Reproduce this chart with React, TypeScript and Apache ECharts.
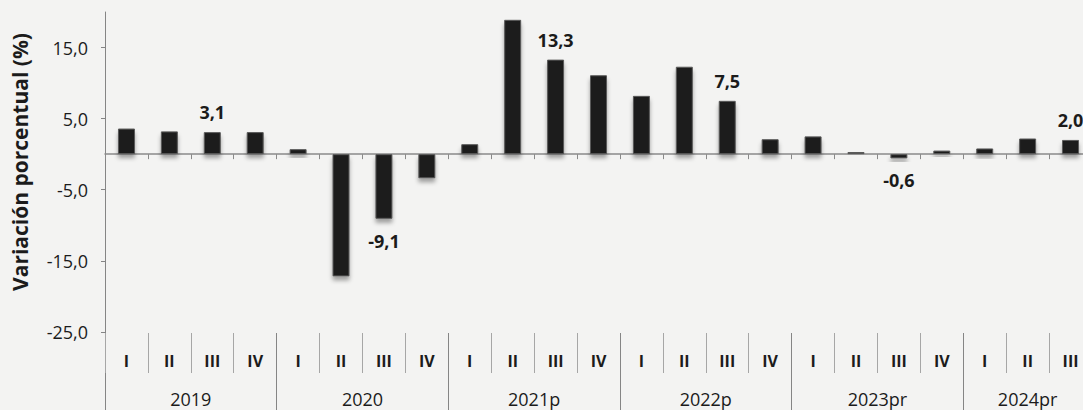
import React, { useEffect, useRef } from 'react';
import * as echarts from 'echarts';

const quarters = ['I', 'II', 'III', 'IV', 'I', 'II', 'III', 'IV', 'I', 'II', 'III', 'IV', 'I', 'II', 'III', 'IV', 'I', 'II', 'III', 'IV', 'I', 'II', 'III'];
const years = ['2019', '2020', '2021p', '2022p', '2023pr', '2024pr'];
const yearCenters = [2, 6, 10, 14, 18, 21.5];
const yearBounds = [4, 8, 12, 16, 20];
const values = [3.6, 3.2, 3.1, 3.1, 0.7, -17.2, -9.1, -3.4, 1.4, 18.9, 13.3, 11.1, 8.2, 12.3, 7.5, 2.1, 2.5, 0.3, -0.6, 0.5, 0.8, 2.2, 2.0];
const labeledIdx = [2, 6, 10, 14, 18, 22];
const yTicks = [-25, -15, -5, 5, 15];

const FONT = "'Open Sans', sans-serif";
const TEXT = '#1b1b1b';
const comma = (v: number) => v.toFixed(1).replace('.', ',');

export default function App() {
  const ref = useRef<HTMLDivElement>(null);
  useEffect(() => {
    document.body.style.margin = '0';
    document.body.style.overflow = 'hidden';
    if (!ref.current) return;
    const chart = echarts.init(ref.current, undefined, { renderer: 'svg' });
    const data = values.map((v, i) => {
      if (!labeledIdx.includes(i)) return v;
      return {
        value: v,
        label: {
          show: true,
          position: v < 0 ? 'bottom' : 'top',
          distance: v < 0 ? 13 : 11,
          formatter: () => comma(v),
          fontFamily: FONT,
          fontWeight: 'bold',
          fontSize: 18,
          color: TEXT,
        },
      };
    });
    chart.setOption({
      animation: false,
      backgroundColor: '#f3f3f2',
      grid: { left: 105, right: 0, top: 12, bottom: 0 },
      xAxis: [
        {
          type: 'category',
          data: quarters,
          position: 'bottom',
          axisLine: { show: true, onZero: true, lineStyle: { color: '#8a8a8a', width: 1.5 } },
          axisTick: { show: true, interval: 0, length: 5, lineStyle: { color: '#8a8a8a' } },
          axisLabel: { show: false },
          splitLine: { show: false },
        },
        {
          type: 'category',
          data: quarters,
          position: 'bottom',
          offset: -77,
          axisLine: { show: false, onZero: false },
          axisTick: { show: true, interval: 0, length: 40, lineStyle: { color: '#a6a6a6' } },
          axisLabel: {
            show: true,
            interval: 0,
            margin: 20,
            fontFamily: FONT,
            fontWeight: 'bold',
            fontSize: 16,
            color: TEXT,
          },
          splitLine: { show: false },
        },
        {
          type: 'value',
          min: 0,
          max: 23,
          position: 'bottom',
          offset: -77,
          axisLine: { show: false, onZero: false },
          axisTick: { show: true, customValues: yearBounds, length: 77, lineStyle: { color: '#858585' } },
          axisLabel: {
            show: true,
            customValues: yearCenters,
            margin: 57,
            fontFamily: FONT,
            fontSize: 18,
            color: TEXT,
            formatter: (v: number) => {
              const k = yearCenters.indexOf(v);
              return k >= 0 ? years[k] : '';
            },
          },
          splitLine: { show: false },
        },
      ],
      yAxis: {
        type: 'value',
        min: -36,
        max: 20,
        axisLine: { show: true, lineStyle: { color: '#858585', width: 1 } },
        axisTick: { show: true, customValues: yTicks, length: 4, lineStyle: { color: '#858585' } },
        axisLabel: {
          show: true,
          customValues: yTicks,
          margin: 17,
          fontFamily: FONT,
          fontSize: 18,
          color: TEXT,
          formatter: (v: number) => comma(v),
        },
        splitLine: { show: false },
      },
      graphic: [
        {
          type: 'text',
          x: 20,
          y: 162,
          rotation: Math.PI / 2,
          style: {
            text: 'Variación porcentual (%)',
            fontFamily: FONT,
            fontWeight: 'bold',
            fontSize: 21,
            fill: TEXT,
            align: 'center',
            verticalAlign: 'middle',
          },
        },
      ],
      series: [
        {
          type: 'bar',
          xAxisIndex: 0,
          yAxisIndex: 0,
          data,
          barWidth: 17,
          itemStyle: {
            color: '#1d1d1d',
            borderColor: '#5a5a5a',
            borderWidth: 1,
            shadowColor: 'rgba(0,0,0,0.35)',
            shadowBlur: 4,
            shadowOffsetY: 4,
          },
        },
      ],
    });
    return () => chart.dispose();
  }, []);
  return (
    <div style={{ width: 1083, height: 410, overflow: 'hidden', position: 'relative', background: '#f3f3f2' }}>
      <div ref={ref} style={{ width: 1092, height: 410 }} />
    </div>
  );
}
